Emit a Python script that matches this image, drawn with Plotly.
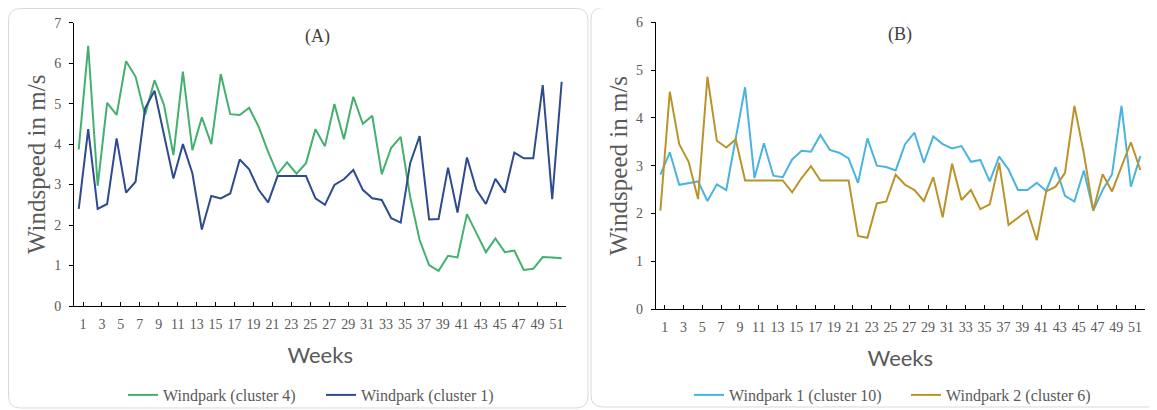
import plotly.graph_objects as go

# ---------------- data ----------------
weeks = list(range(1, 53))
tick_weeks = list(range(1, 52, 2))

cluster4 = [3.87, 6.43, 2.97, 5.02, 4.72, 6.05, 5.67, 4.72, 5.58, 4.97,
            3.73, 5.79, 3.85, 4.66, 4.00, 5.73, 4.74, 4.72, 4.90, 4.43,
            3.81, 3.26, 3.55, 3.27, 3.53, 4.37, 3.95, 4.99, 4.12, 5.17,
            4.50, 4.70, 3.26, 3.91, 4.18, 2.70, 1.63, 1.01, 0.87, 1.24,
            1.20, 2.27, 1.80, 1.33, 1.67, 1.33, 1.37, 0.89, 0.92, 1.21,
            1.20, 1.18]
cluster1 = [2.40, 4.37, 2.40, 2.52, 4.14, 2.80, 3.07, 4.88, 5.32, 4.27,
            3.15, 4.00, 3.28, 1.89, 2.72, 2.66, 2.78, 3.62, 3.38, 2.87,
            2.56, 3.21, 3.21, 3.21, 3.21, 2.66, 2.50, 2.99, 3.13, 3.36,
            2.87, 2.66, 2.62, 2.17, 2.06, 3.53, 4.20, 2.14, 2.15, 3.42,
            2.31, 3.67, 2.87, 2.52, 3.14, 2.80, 3.79, 3.65, 3.65, 5.46,
            2.64, 5.54]
windpark1_c10 = [2.81, 3.28, 2.60, 2.64, 2.67, 2.26, 2.61, 2.49, 3.55, 4.64,
                 2.74, 3.47, 2.79, 2.76, 3.13, 3.31, 3.29, 3.64, 3.33, 3.27,
                 3.15, 2.64, 3.57, 3.00, 2.97, 2.90, 3.45, 3.69, 3.06, 3.61,
                 3.45, 3.36, 3.41, 3.08, 3.12, 2.67, 3.19, 2.92, 2.49, 2.49,
                 2.64, 2.47, 2.97, 2.37, 2.25, 2.90, 2.06, 2.49, 2.82, 4.25,
                 2.56, 3.20]
windpark2_c6 = [2.06, 4.55, 3.45, 3.08, 2.30, 4.86, 3.52, 3.38, 3.55, 2.69,
                2.69, 2.69, 2.69, 2.69, 2.44, 2.74, 2.99, 2.69, 2.69, 2.69,
                2.69, 1.53, 1.49, 2.21, 2.25, 2.81, 2.60, 2.49, 2.26, 2.76,
                1.92, 3.04, 2.28, 2.49, 2.09, 2.19, 3.06, 1.76, 1.92, 2.06,
                1.44, 2.46, 2.56, 2.85, 4.25, 3.26, 2.06, 2.82, 2.46, 2.98,
                3.49, 2.91]

# ---------------- styling helpers ----------------
# page body has an 8px margin, so the figure is shifted by (8, 8) in the window
OFF = 8
W, H = 1157 - OFF, 410 - OFF
def fx(x): return (x - OFF) / W
def fy(y): return 1 - (y - OFF) / H

GREEN = "#44B06F"
BLUE = "#2D4B8E"
CYAN = "#4AB4DE"
GOLD = "#BA942B"
GRAY = "#595959"
SERIF = "Liberation Serif"
SANS = "Lato"
TICK_SHIFT = 0.45  # category ticks sit slightly right of the data points

fig = go.Figure()
fig.add_trace(go.Scatter(x=weeks, y=cluster4, mode="lines", name="Windpark (cluster 4)",
                         line=dict(color=GREEN, width=2), xaxis="x", yaxis="y", legend="legend"))
fig.add_trace(go.Scatter(x=weeks, y=cluster1, mode="lines", name="Windpark (cluster 1)",
                         line=dict(color=BLUE, width=2), xaxis="x", yaxis="y", legend="legend"))
fig.add_trace(go.Scatter(x=weeks, y=windpark1_c10, mode="lines", name="Windpark 1 (cluster 10)",
                         line=dict(color=CYAN, width=2), xaxis="x2", yaxis="y2", legend="legend2"))
fig.add_trace(go.Scatter(x=weeks, y=windpark2_c6, mode="lines", name="Windpark 2 (cluster 6)",
                         line=dict(color=GOLD, width=2), xaxis="x2", yaxis="y2", legend="legend2"))

def xax(domain, anchor):
    return dict(domain=domain, anchor=anchor, range=[0.5, 52.5], showgrid=False, zeroline=False,
                showline=True, linecolor="black", linewidth=1, automargin=False,
                ticks="inside", ticklen=4, tickcolor="black", ticklabelstandoff=5,
                tickvals=[w + TICK_SHIFT for w in tick_weeks], ticktext=[str(w) for w in tick_weeks],
                tickfont=dict(family=SERIF, size=14, color=GRAY),
                title=dict(text="Weeks", font=dict(family=SANS, size=22, color=GRAY), standoff=16))

def yax(domain, anchor, ymax):
    return dict(domain=domain, anchor=anchor, range=[0, ymax], dtick=1, showgrid=False, zeroline=False,
                showline=True, linecolor="black", linewidth=1, automargin=False,
                ticks="outside", ticklen=4, tickcolor="black", ticklabelstandoff=5,
                tickfont=dict(family=SERIF, size=14, color=GRAY),
                title=dict(text="Windspeed in m/s", font=dict(family=SERIF, size=25, color=GRAY), standoff=1))

def rounded(x0, y0, x1, y1, r):
    pts = (f"M {fx(x0 + r)},{fy(y0)} L {fx(x1 - r)},{fy(y0)} Q {fx(x1)},{fy(y0)} {fx(x1)},{fy(y0 + r)} "
           f"L {fx(x1)},{fy(y1 - r)} Q {fx(x1)},{fy(y1)} {fx(x1 - r)},{fy(y1)} "
           f"L {fx(x0 + r)},{fy(y1)} Q {fx(x0)},{fy(y1)} {fx(x0)},{fy(y1 - r)} "
           f"L {fx(x0)},{fy(y0 + r)} Q {fx(x0)},{fy(y0)} {fx(x0 + r)},{fy(y0)} Z")
    return dict(type="path", xref="paper", yref="paper", path=pts,
                line=dict(color="#D9D9D9", width=1), fillcolor="rgba(0,0,0,0)", layer="below")

fig.update_layout(
    width=W, height=H, margin=dict(l=0, r=0, t=0, b=0, autoexpand=False),
    paper_bgcolor="white", plot_bgcolor="white",
    xaxis=xax([fx(74), fx(566.4)], "y"),
    yaxis=yax([fy(306), fy(22.7)], "x", 7),
    xaxis2=xax([fx(655.7), fx(1145)], "y2"),
    yaxis2=yax([fy(309), fy(22.3)], "x2", 6),
    legend=dict(orientation="h", x=fx(123), y=fy(395), xanchor="left", yanchor="middle",
                font=dict(family=SERIF, size=16, color=GRAY), bgcolor="rgba(0,0,0,0)",
                entrywidth=153, entrywidthmode="pixels", itemclick=False),
    legend2=dict(orientation="h", x=fx(689), y=fy(395), xanchor="left", yanchor="middle",
                 font=dict(family=SERIF, size=16, color=GRAY), bgcolor="rgba(0,0,0,0)",
                 entrywidth=172, entrywidthmode="pixels", itemclick=False),
    shapes=[rounded(8.5, 8.5, 588, 408, 12), rounded(591, 7.5, 1170, 407, 12)],
    annotations=[
        dict(text="(A)", x=fx(317), y=fy(36), xref="paper", yref="paper", showarrow=False,
             font=dict(family=SERIF, size=18, color="#404040"), xanchor="center", yanchor="middle"),
        dict(text="(B)", x=fx(900), y=fy(34), xref="paper", yref="paper", showarrow=False,
             font=dict(family=SERIF, size=18, color="#404040"), xanchor="center", yanchor="middle"),
    ],
)

fig.write_html("out.html")
